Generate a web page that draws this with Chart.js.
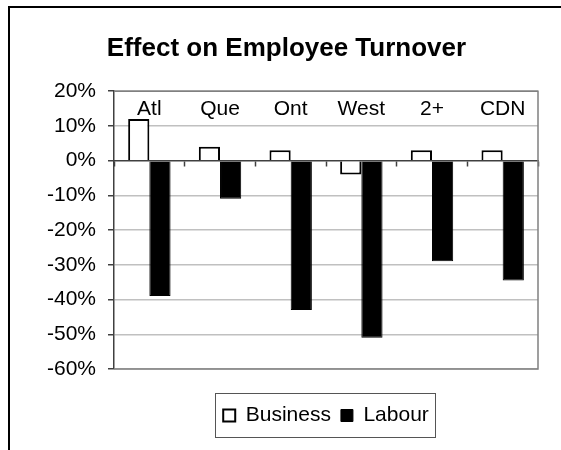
<!DOCTYPE html>
<html>
<head>
<meta charset="utf-8">
<script src="https://cdn.jsdelivr.net/npm/chart.js@4.4.1/dist/chart.umd.min.js"></script>
<style>
  html, body { margin: 0; padding: 0; background: #fff; }
  #wrap { width: 561px; height: 450px; position: relative; }
</style>
</head>
<body>
<div id="wrap"><canvas id="c" width="561" height="450"></canvas></div>
<script>
const categories = ['Atl', 'Que', 'Ont', 'West', '2+', 'CDN'];
const businessValues = [12, 4, 3, -4, 3, 3];
const labourValues = [-39, -11, -43, -51, -29, -34.5];
const yTicks = [20, 10, 0, -10, -20, -30, -40, -50, -60];
const chartTitle = 'Effect on Employee Turnover';
const seriesNames = ['Business', 'Labour'];

const FONT = "'Liberation Sans', Arial, sans-serif";

const framePlugin = {
  id: 'frame',
  beforeDraw(chart) {
    const ctx = chart.ctx;
    ctx.save();
    ctx.fillStyle = '#fff';
    ctx.fillRect(0, 0, chart.width, chart.height);
    ctx.fillStyle = '#000';
    ctx.fillRect(8, 6, chart.width, 2);
    ctx.fillRect(8, 6, 2, chart.height);
    ctx.restore();
  },
  beforeDatasetsDraw(chart) {
    const a = chart.chartArea;
    const ctx = chart.ctx;
    ctx.save();
    ctx.strokeStyle = '#808080';
    ctx.lineWidth = 1.5;
    ctx.beginPath();
    ctx.moveTo(a.left, a.top);
    ctx.lineTo(a.right, a.top);
    ctx.lineTo(a.right, a.bottom);
    ctx.lineTo(a.left, a.bottom);
    ctx.stroke();
    ctx.restore();
  },
  afterDraw(chart) {
    const lg = chart.legend;
    if (!lg || !lg.legendHitBoxes || !lg.legendHitBoxes.length) return;
    const hb = lg.legendHitBoxes;
    const first = hb[0], last = hb[hb.length - 1];
    const x1 = first.left - 8;
    const x2 = last.left + last.width + 6;
    const y1 = first.top - 12;
    const y2 = first.top + first.height + 11;
    const ctx = chart.ctx;
    ctx.save();
    ctx.strokeStyle = '#555';
    ctx.lineWidth = 1;
    ctx.strokeRect(Math.round(x1) + 0.5, Math.round(y1) + 0.5, Math.round(x2 - x1), Math.round(y2 - y1));
    ctx.restore();
  }
};

new Chart(document.getElementById('c'), {
  type: 'bar',
  data: {
    labels: categories,
    datasets: [
      {
        label: seriesNames[0],
        data: businessValues,
        backgroundColor: '#ffffff',
        borderColor: '#000000',
        borderWidth: 2,
        categoryPercentage: 0.6,
        barPercentage: 1.0
      },
      {
        label: seriesNames[1],
        data: labourValues,
        backgroundColor: '#000000',
        borderColor: '#000000',
        borderWidth: 1,
        categoryPercentage: 0.6,
        barPercentage: 1.0
      }
    ]
  },
  plugins: [framePlugin],
  options: {
    responsive: false,
    animation: false,
    layout: { padding: { left: 35, right: 23, top: 0, bottom: 14 } },
    plugins: {
      title: {
        display: true,
        text: chartTitle,
        color: '#000',
        font: { family: FONT, size: 26, weight: 'bold' },
        padding: { top: 33, bottom: 27 }
      },
      legend: {
        display: true,
        position: 'bottom',
        fullSize: false,
        labels: {
          color: '#000',
          font: { family: FONT, size: 21 },
          boxWidth: 12,
          boxHeight: 12,
          padding: 10
        }
      },
      tooltip: { enabled: false }
    },
    scales: {
      x: {
        type: 'category',
        axis: 'x',
        position: { y: 0 },
        ticks: { display: false },
        grid: {
          display: true,
          offset: true,
          drawOnChartArea: false,
          drawTicks: true,
          tickLength: 5,
          tickColor: '#404040',
          tickWidth: 1.5
        },
        border: { display: true, color: '#404040', width: 1.5 }
      },
      x2: {
        type: 'category',
        axis: 'x',
        labels: categories,
        position: { y: 20 },
        grid: { display: false },
        border: { display: false },
        ticks: {
          color: '#000',
          font: { family: FONT, size: 21 },
          padding: -3,
          maxRotation: 0,
          autoSkip: false
        }
      },
      xpad: {
        type: 'category',
        axis: 'x',
        labels: categories,
        position: 'bottom',
        ticks: { display: false },
        grid: {
          display: true,
          drawOnChartArea: false,
          drawTicks: true,
          tickLength: 26,
          color: 'rgba(0,0,0,0)',
          tickColor: 'rgba(0,0,0,0)'
        },
        border: { display: false }
      },
      y: {
        type: 'linear',
        position: 'left',
        min: -60,
        max: 20,
        afterBuildTicks(scale) {
          scale.ticks = yTicks.map(v => ({ value: v }));
        },
        ticks: {
          color: '#000',
          font: { family: FONT, size: 21 },
          padding: 12,
          callback: v => v + '%'
        },
        grid: {
          display: true,
          drawTicks: true,
          tickLength: 6,
          tickColor: '#404040',
          tickWidth: 1.5,
          color: ctx => (ctx.tick && ctx.tick.value === 0) ? 'rgba(0,0,0,0)' : '#c0c0c0',
          lineWidth: 1.5
        },
        border: { display: true, color: '#404040', width: 1.5 }
      }
    }
  }
});
</script>
</body>
</html>
